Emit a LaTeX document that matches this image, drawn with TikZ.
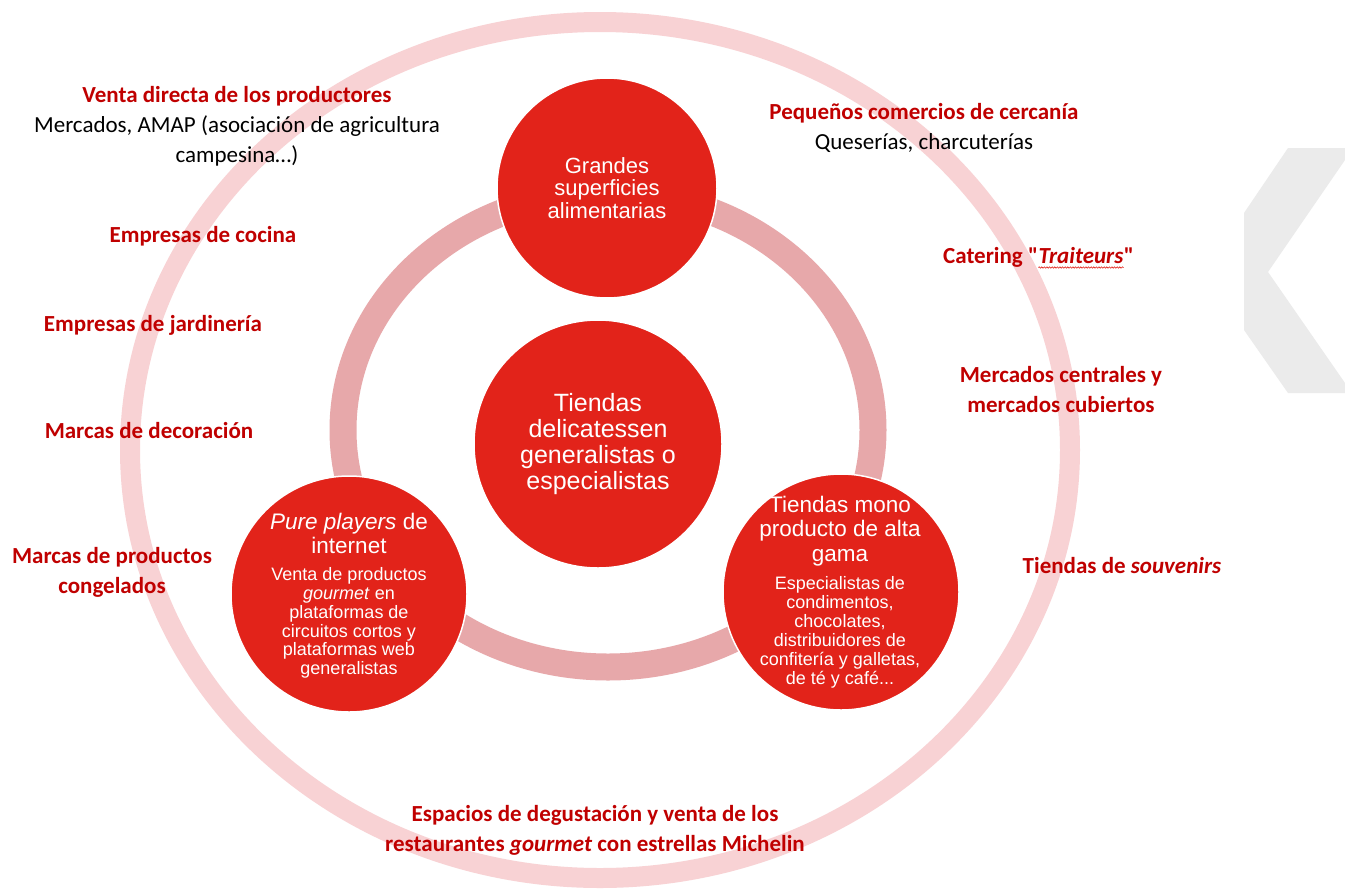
\documentclass[tikz,border=0pt]{standalone}
\usepackage{fontspec}
\setmainfont{Carlito}[Ligatures=TeXOff]
\newfontfamily\arialf{Liberation Sans}
\usetikzlibrary{decorations.pathmorphing}
\definecolor{ringout}{RGB}{248,210,212}
\definecolor{ringin}{RGB}{231,168,170}
\definecolor{bubred}{RGB}{226,35,26}
\definecolor{labred}{RGB}{192,0,0}
\definecolor{chev}{RGB}{235,235,235}
\begin{document}
\begin{tikzpicture}[x=1pt,y=-1pt,
  bub/.style={circle, fill=bubred, draw=white, line width=1.5pt, inner sep=0pt},
  ctext/.style={text=white, align=center, inner sep=0pt},
  lab/.style={text=labred, font=\fontsize{23}{30}\selectfont\bfseries, align=center, inner sep=0pt},
  wavy/.style={bubred, line width=0.6pt, decorate, decoration={snake, amplitude=0.7pt, segment length=2.6pt}}
]
\useasboundingbox (0,0) rectangle (1345,892);
\fill[white] (0,0) rectangle (1345,892);
% outer ring
\draw[ringout, line width=20pt] (600,450) ellipse [x radius=470pt, y radius=428pt];
% chevron
\fill[chev] (1288,148) -- (1345,148) -- (1345,160) -- (1268,272) -- (1345,383) -- (1345,393) -- (1288,393) -- (1244,330) -- (1244,213) -- cycle;
% inner ring
\draw[ringin, line width=27pt] (608,430) ellipse [x radius=265pt, y radius=237pt];
% bubbles
\node[bub, minimum size=220pt] (ctop) at (607,188) {};
\node[bub, minimum size=248pt] (cmid) at (598,444) {};
\node[bub, minimum size=236pt] (cleft) at (349,594) {};
\node[bub, minimum size=236pt] (cright) at (841,592) {};
% bubble texts
\node[ctext, font=\arialf\fontsize{22}{22.5}\selectfont] (ttop) at (ctop) {Grandes\\superficies\\alimentarias};
\node[ctext, font=\arialf\fontsize{25}{26.2}\selectfont] (tmid) at (cmid) {Tiendas\\delicatessen\\generalistas o\\especialistas};
\node[ctext, font=\arialf\fontsize{22.5}{23.5}\selectfont] (tlefta) at (349,533.5) {\textit{Pure players} de\\internet};
\node[ctext, font=\arialf\fontsize{18}{18.8}\selectfont] (tleftb) at (349,623) {Venta de productos\\\textit{gourmet} en\\plataformas de\\circuitos cortos y\\plataformas web\\generalistas};
\node[ctext, font=\arialf\fontsize{22.5}{24.5}\selectfont] (trighta) at (840,531) {Tiendas mono\\producto de alta\\gama};
\node[ctext, font=\arialf\fontsize{18}{19}\selectfont] (trightb) at (840,632.5) {Especialistas de\\condimentos,\\chocolates,\\distribuidores de\\confitería y galletas,\\de té y café...};
% outer labels
\node[lab] (l1) at (237,126.5) {Venta directa de los productores\\{\mdseries\color{black}Mercados, AMAP (asociación de agricultura}\\{\mdseries\color{black}campesina…)}};
\node[lab] (l2) at (203,236) {Empresas de cocina};
\node[lab] (l3) at (153,325) {Empresas de jardinería};
\node[lab] (l4) at (149,431) {Marcas de decoración};
\node[lab] (l5) at (112,572.5) {Marcas de productos\\congelados};
\node[lab] (r1) at (924,128) {Pequeños comercios de cercanía\\{\mdseries\color{black}Queserías, charcuterías}};
\node[lab, anchor=base west] (cat1) at (943,263) {Catering "};
\node[lab, anchor=base west] (cat2) at (cat1.base east) {\itshape Traiteurs\/};
\node[lab, anchor=base west] (cat3) at (cat2.base east) {"};
\draw[wavy] ([yshift=-4.5pt]cat2.base west) -- ([yshift=-4.5pt]cat2.base east);
\node[lab] (r3) at (1061,389.5) {Mercados centrales y\\mercados cubiertos};
\node[lab] (r4) at (1122,566) {Tiendas de \textit{souvenirs}};
\node[lab] (b1) at (595,830.5) {Espacios de degustación y venta de los\\restaurantes \textit{gourmet} con estrellas Michelin};
\end{tikzpicture}
\end{document}
